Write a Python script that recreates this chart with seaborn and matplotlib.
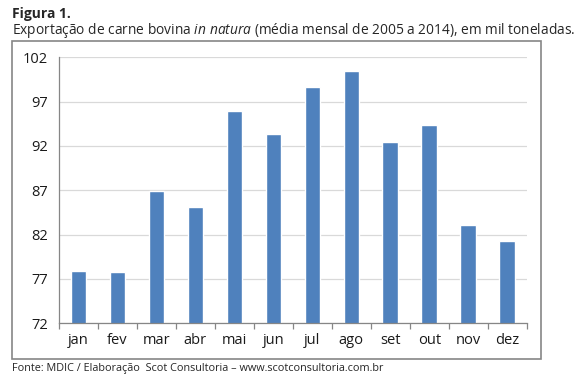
import matplotlib
matplotlib.use("agg")
import matplotlib.pyplot as plt
import seaborn as sns
import pandas as pd
from matplotlib.patches import Rectangle

# dados
meses = ['jan', 'fev', 'mar', 'abr', 'mai', 'jun', 'jul', 'ago', 'set', 'out', 'nov', 'dez']
exportacao = [77.9, 77.75, 86.9, 85.1, 95.9, 93.4, 98.7, 100.4, 92.4, 94.4, 83.1, 81.25]
yticks = [72, 77, 82, 87, 92, 97, 102]

sns.set_theme(style='white')
plt.rcParams['font.family'] = ['Open Sans', 'DejaVu Sans']
plt.rcParams['mathtext.fontset'] = 'custom'
plt.rcParams['mathtext.it'] = 'Open Sans:italic'
plt.rcParams['mathtext.rm'] = 'Open Sans'

df = pd.DataFrame({'mes': meses, 'valor': exportacao})

fig = plt.figure(figsize=(5.88, 3.89), dpi=100)
fig.patch.set_facecolor('white')

# moldura do gráfico
fig.patches.append(Rectangle((12/588, 1-359/389), 529/588, 318/389, transform=fig.transFigure,
                             fill=False, edgecolor='#868686', linewidth=1.2))

ax = fig.add_axes([59/588, 1-323.3/389, 467.7/588, 266/389])
sns.barplot(data=df, x='mes', y='valor', color='#4F81BD', saturation=1, width=0.4, ax=ax)

ax.set_ylim(72, 102)
ax.set_yticks(yticks)
ax.set_xlim(-0.5, 11.5)
ax.yaxis.grid(True, color='#D9D9D9', linewidth=0.9)
ax.set_axisbelow(True)
for s in ['top', 'right']:
    ax.spines[s].set_visible(False)
for s in ['left', 'bottom']:
    ax.spines[s].set_color('#868686')
    ax.spines[s].set_linewidth(0.9)
ax.set_xlabel('')
ax.set_ylabel('')
ax.tick_params(axis='y', length=0, pad=8, labelsize=10.5, colors='#1a1a1a')
ax.tick_params(axis='x', which='major', length=0, pad=7, labelsize=10.5, colors='#1a1a1a')
ax.set_xticks([i - 0.5 for i in range(13)], minor=True)
ax.tick_params(axis='x', which='minor', length=4, color='#868686', width=0.9, direction='out', bottom=True)

fig.text(12/588, 1-14/389, 'Figura 1.', fontsize=10, fontweight='bold', va='center', ha='left')
fig.text(12/588, 1-31/389,
         r'Exportação de carne bovina $\it{in\ natura}$ (média mensal de 2005 a 2014), em mil toneladas.',
         fontsize=9.9, va='center', ha='left')
fig.text(12/588, 1-369/389, 'Fonte: MDIC / Elaboração  Scot Consultoria – www.scotconsultoria.com.br',
         fontsize=7.8, va='center', ha='left')

plt.savefig('out.png', dpi=100)
plt.close()
